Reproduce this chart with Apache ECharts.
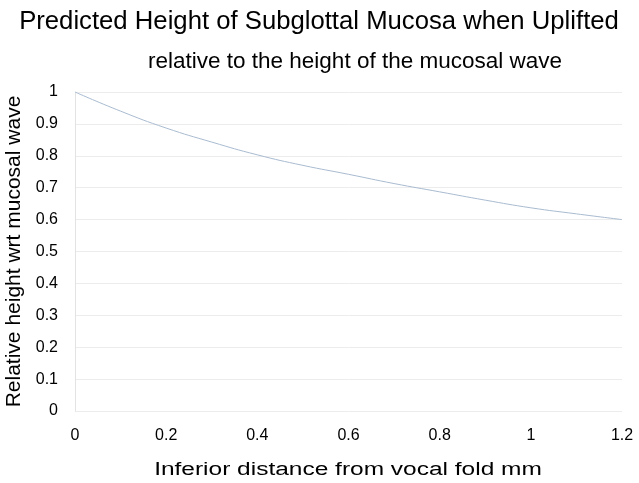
<!DOCTYPE html>
<html>
<head>
<meta charset="utf-8">
<script src="https://cdn.jsdelivr.net/npm/echarts@6/dist/echarts.min.js"></script>
<style>
html, body { margin: 0; padding: 0; background: #fff; }
#chart { width: 639px; height: 483px; }
</style>
</head>
<body>
<div id="chart"></div>
<script>
var distance = [0, 0.1, 0.2, 0.3, 0.4, 0.5, 0.6, 0.7, 0.8, 0.9, 1.0, 1.1, 1.2];
var relHeight = [1, 0.94, 0.887, 0.843, 0.803, 0.77, 0.742, 0.713, 0.687, 0.661, 0.637, 0.618, 0.6];

var points = [];
for (var i = 0; i < distance.length; i++) {
    points.push([distance[i], relHeight[i]]);
}

var myChart = echarts.init(document.getElementById('chart'));

var option = {
    backgroundColor: '#fff',
    animation: false,
    textStyle: { fontFamily: 'Liberation Sans, Arial, sans-serif' },
    title: [
        {
            text: 'Predicted Height of Subglottal Mucosa when Uplifted',
            left: 314,
            top: 4,
            textAlign: 'center',
            textStyle: { fontSize: 25.7, fontWeight: 'normal', color: '#000', fontFamily: 'Liberation Sans' }
        },
        {
            text: 'relative to the height of the mucosal wave',
            left: 350,
            top: 45,
            textAlign: 'center',
            textStyle: { fontSize: 22.5, fontWeight: 'normal', color: '#000', fontFamily: 'Liberation Sans' }
        }
    ],
    graphic: [{
        type: 'text',
        x: 348,
        y: 470,
        scaleX: 1.36,
        style: {
            text: 'Inferior distance from vocal fold mm',
            font: '18px "Liberation Sans"',
            fill: '#000',
            align: 'center',
            verticalAlign: 'middle'
        }
    }],
    grid: { left: 75, right: 17, top: 92, bottom: 72, outerBoundsMode: 'none', containLabel: false },
    xAxis: {
        type: 'value',
        min: 0,
        max: 1.2,
        interval: 0.2,
        axisLine: { show: false },
        axisTick: { show: false },
        splitLine: { show: false },
        axisLabel: {
            fontSize: 16,
            color: '#000',
            margin: 17,
            fontFamily: 'Liberation Sans',
            formatter: function (v) { return String(+v.toFixed(1)); }
        }
    },
    yAxis: {
        type: 'value',
        min: 0,
        max: 1,
        interval: 0.1,
        name: 'Relative height wrt mucosal wave',
        nameLocation: 'middle',
        nameGap: 49,
        nameTextStyle: { fontSize: 21, color: '#000', fontFamily: 'Liberation Sans' },
        axisLine: { show: true, lineStyle: { color: '#e3e3e3', width: 1 } },
        axisTick: { show: false },
        splitLine: { show: true, lineStyle: { color: '#ececec', width: 1 } },
        axisLabel: {
            fontSize: 16,
            color: '#000',
            margin: 17,
            fontFamily: 'Liberation Sans',
            formatter: function (v) { return String(+v.toFixed(1)); }
        }
    },
    series: [{
        type: 'line',
        data: points,
        smooth: true,
        showSymbol: false,
        lineStyle: { color: '#a9bbd0', width: 1 }
    }]
};

myChart.setOption(option);
</script>
</body>
</html>
